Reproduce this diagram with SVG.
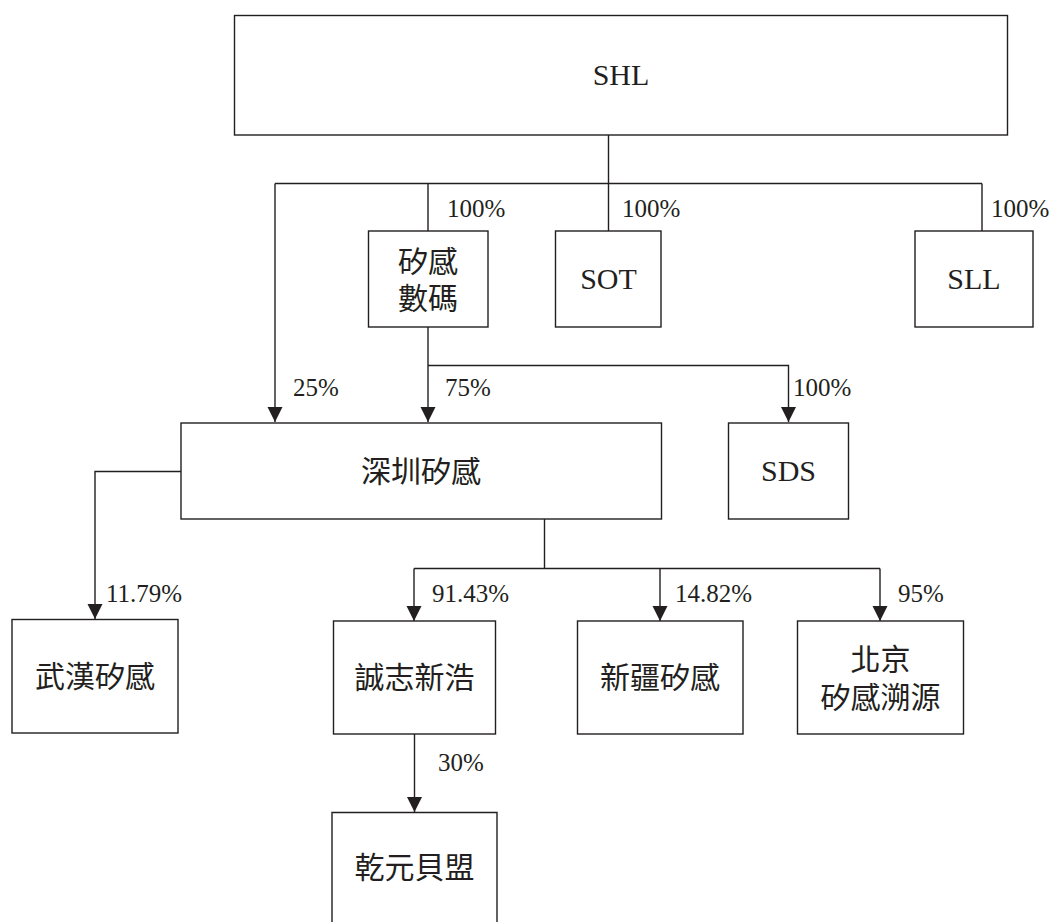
<svg xmlns="http://www.w3.org/2000/svg" width="1053" height="922" viewBox="0 0 1053 922">
<style>
.box{fill:#fff;stroke:#231f20;stroke-width:1.4}
.ln{fill:none;stroke:#231f20;stroke-width:1.4}
.t{font-family:"Liberation Serif","Noto Sans CJK TC",serif;fill:#231f20;text-anchor:middle}
.en{font-size:30px}
.cjk{font-size:30px}
.lb{font-family:"Liberation Serif",serif;font-size:25px;fill:#231f20}
</style>
<defs>
<marker id="ad" markerUnits="userSpaceOnUse" markerWidth="16" markerHeight="16" viewBox="0 0 16 16" refX="8" refY="15" orient="0">
<path d="M0.5,0 L15.5,0 L8,15 Z" fill="#231f20"/>
</marker>
</defs>
<rect width="1053" height="922" fill="#fff"/>
<g id="connectors">
<path class="ln" d="M608.5,135 V183.5 M275,183.5 H982 M428,183.5 V231 M608.5,183.5 V231 M982,183.5 V231"/>
<path class="ln" d="M275,183.5 V422" marker-end="url(#ad)"/>
<path class="ln" d="M428,327 V422" marker-end="url(#ad)"/>
<path class="ln" d="M428,365.5 H788.5 V422" marker-end="url(#ad)"/>
<path class="ln" d="M181,471.5 H95 V619" marker-end="url(#ad)"/>
<path class="ln" d="M544.5,519 V568.5 M414,568.5 H880"/>
<path class="ln" d="M414,568.5 V621" marker-end="url(#ad)"/>
<path class="ln" d="M660,568.5 V621" marker-end="url(#ad)"/>
<path class="ln" d="M880,568.5 V621" marker-end="url(#ad)"/>
<path class="ln" d="M414.5,734 V812" marker-end="url(#ad)"/>
<text class="lb" x="447" y="217">100%</text>
<text class="lb" x="622" y="217">100%</text>
<text class="lb" x="991" y="217">100%</text>
<text class="lb" x="293" y="396">25%</text>
<text class="lb" x="445" y="396">75%</text>
<text class="lb" x="793" y="396">100%</text>
<text class="lb" x="106" y="602">11.79%</text>
<text class="lb" x="432" y="602">91.43%</text>
<text class="lb" x="675" y="602">14.82%</text>
<text class="lb" x="898" y="602">95%</text>
<text class="lb" x="438" y="771">30%</text>
</g>
<g id="shl">
<rect class="box" x="234.5" y="15.5" width="773" height="119.5"/>
<text class="t en" x="621" y="85">SHL</text>
</g>
<g id="guigan-shuma">
<rect class="box" x="368.5" y="231" width="119.5" height="96"/>
<text class="t cjk" x="428" y="272">矽感</text>
<text class="t cjk" x="428" y="309">數碼</text>
</g>
<g id="sot">
<rect class="box" x="555.5" y="231" width="105.5" height="96"/>
<text class="t en" x="608.5" y="289">SOT</text>
</g>
<g id="sll">
<rect class="box" x="915" y="231" width="118" height="96"/>
<text class="t en" x="974" y="289">SLL</text>
</g>
<g id="shenzhen">
<rect class="box" x="181" y="423" width="480.5" height="96"/>
<text class="t cjk" x="421" y="482">深圳矽感</text>
</g>
<g id="sds">
<rect class="box" x="728.5" y="423" width="120" height="96"/>
<text class="t en" x="788.5" y="481">SDS</text>
</g>
<g id="wuhan">
<rect class="box" x="12" y="619.5" width="166" height="113.5"/>
<text class="t cjk" x="95" y="687">武漢矽感</text>
</g>
<g id="chengzhi">
<rect class="box" x="333.5" y="621" width="162" height="113"/>
<text class="t cjk" x="414.5" y="688">誠志新浩</text>
</g>
<g id="xinjiang">
<rect class="box" x="577.5" y="621" width="165.5" height="113"/>
<text class="t cjk" x="660" y="688">新疆矽感</text>
</g>
<g id="beijing">
<rect class="box" x="797.5" y="621" width="166" height="113"/>
<text class="t cjk" x="880.5" y="670">北京</text>
<text class="t cjk" x="880.5" y="708">矽感溯源</text>
</g>
<g id="qianyuan">
<path class="box" d="M332,930 V812.5 H497 V930"/>
<text class="t cjk" x="414.5" y="878">乾元貝盟</text>
</g>
</svg>
